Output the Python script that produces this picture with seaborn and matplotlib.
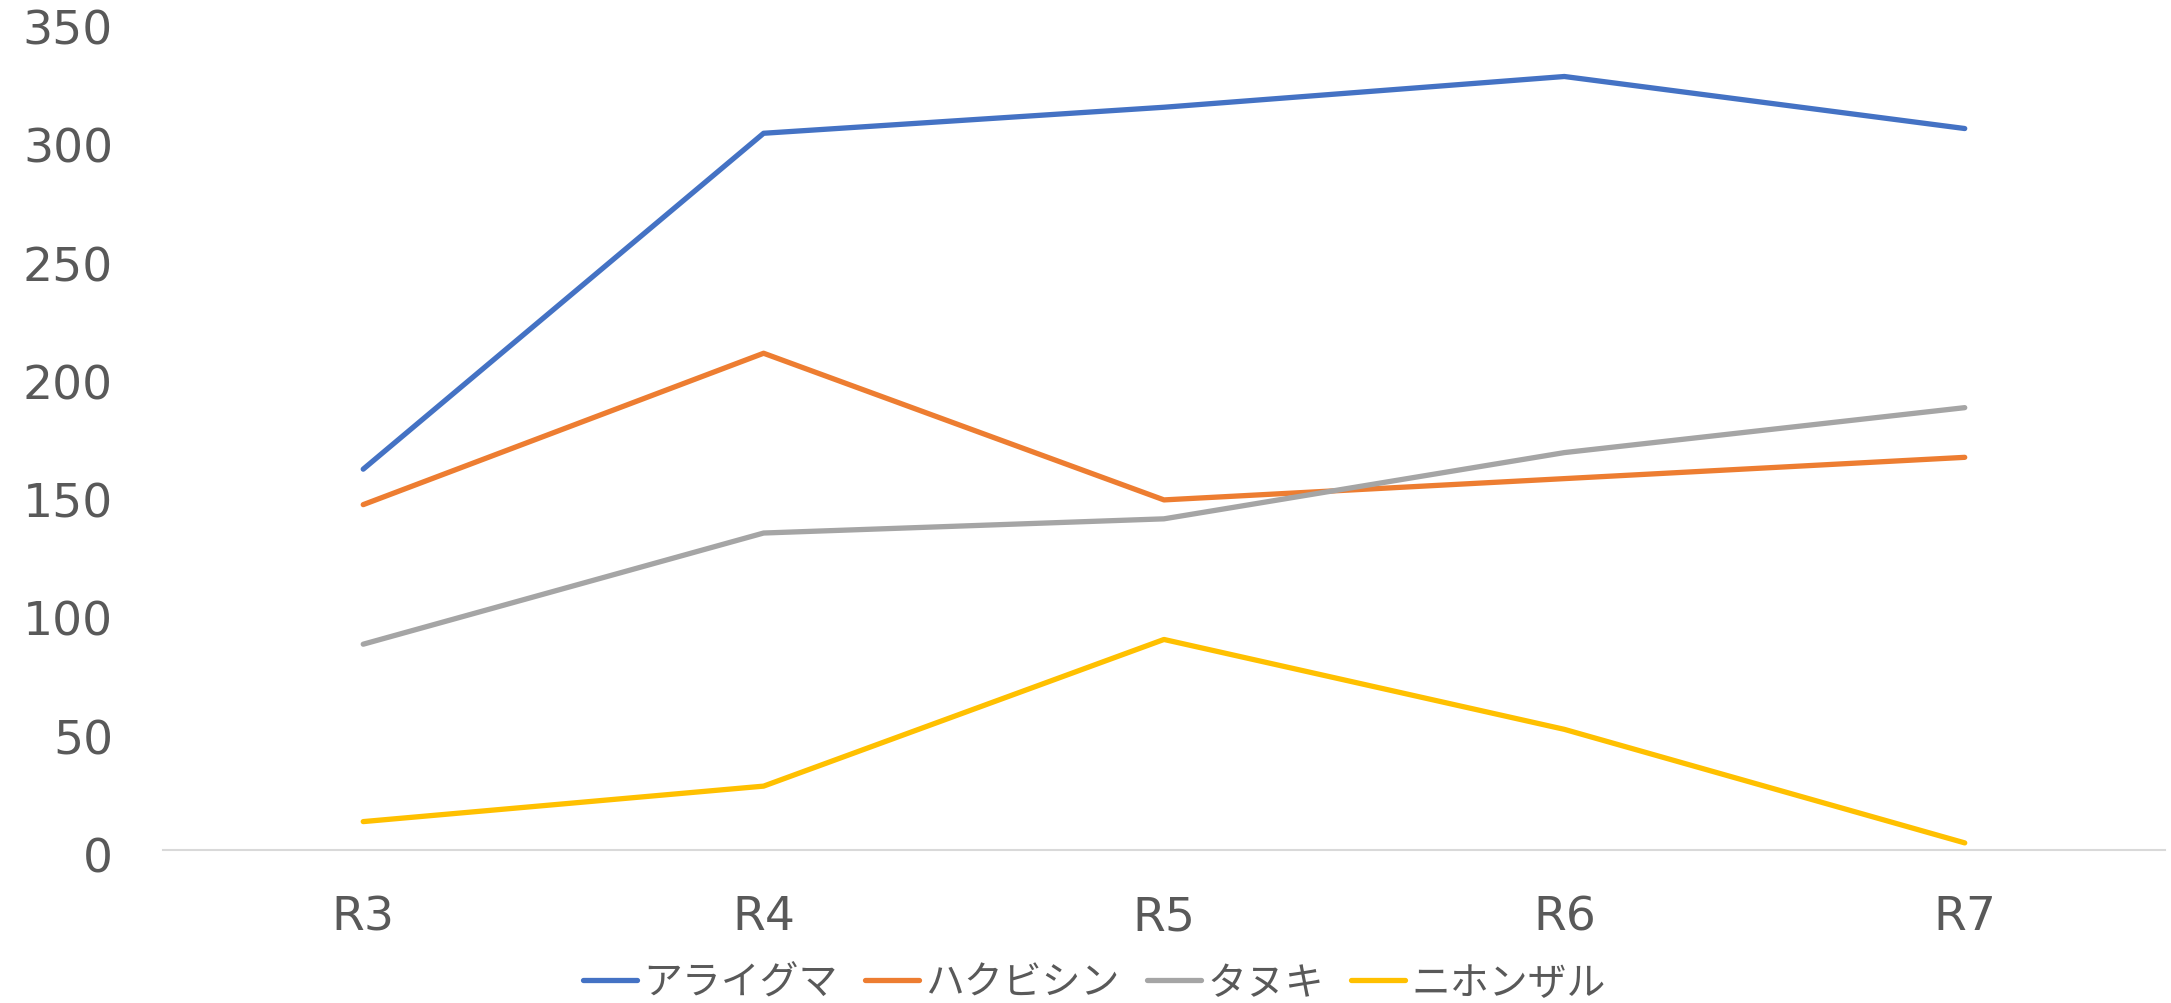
import matplotlib
matplotlib.use("Agg")
import matplotlib.pyplot as plt
import matplotlib.transforms as mtransforms
import seaborn as sns
import pandas as pd

# Data
years = ["R3", "R4", "R5", "R6", "R7"]
araiguma = [161, 303, 314, 327, 305]
hakubishin = [146, 210, 148, 157, 166]
tanuki = [87, 134, 140, 168, 187]
nihonzaru = [12, 27, 89, 51, 3]
species = ["アライグマ", "ハクビシン", "タヌキ", "ニホンザル"]
colors = ["#4472C4", "#ED7D31", "#A5A5A5", "#FFC000"]
yticks = [0, 50, 100, 150, 200, 250, 300, 350]

rows = []
for name, vals in zip(species, [araiguma, hakubishin, tanuki, nihonzaru]):
    for yr, v in zip(years, vals):
        rows.append({"year": yr, "species": name, "count": v})
df = pd.DataFrame(rows)

sns.set_style("white")
plt.rcParams["font.family"] = ["Noto Sans CJK JP", "DejaVu Sans"]
text_color = "#595959"

fig = plt.figure(figsize=(21.71, 10.04), dpi=100)
ax = fig.add_axes([0.0751, 0.1524, 0.9221, 0.8246])

sns.lineplot(data=df, x="year", y="count", hue="species", hue_order=species,
             palette=colors, linewidth=3.8, ax=ax, sort=False,
             solid_capstyle="round")

ax.set_xlim(-0.5, len(years) - 0.5)
ax.set_ylim(0, 350)
ax.set_yticks(yticks)
ax.set_xlabel("")
ax.set_ylabel("")
ax.tick_params(axis="both", length=0, labelcolor=text_color)
ax.tick_params(axis="y", pad=36)
ax.tick_params(axis="x", pad=32)
# y labels sit a little below their value in the reference
shift = mtransforms.ScaledTranslation(0, -4 / 100, fig.dpi_scale_trans)
for lbl in ax.get_yticklabels():
    lbl.set_transform(lbl.get_transform() + shift)
for lbl in ax.get_xticklabels() + ax.get_yticklabels():
    lbl.set_family(["DejaVu Sans"])
    lbl.set_fontsize(34)

for side in ["top", "right", "left"]:
    ax.spines[side].set_visible(False)
ax.spines["bottom"].set_color("#D9D9D9")
ax.spines["bottom"].set_linewidth(1.5)

handles, labels = ax.get_legend_handles_labels()
ax.legend_.remove()
leg = fig.legend(handles, labels, loc="center", bbox_to_anchor=(0.504, 0.02),
                 ncol=4, frameon=False, fontsize=28, handlelength=1.4,
                 handletextpad=0.15, columnspacing=0.7)
for t in leg.get_texts():
    t.set_color(text_color)
for h in leg.legend_handles:
    h.set_linewidth(3.8)

fig.savefig("out.png", dpi=100)
